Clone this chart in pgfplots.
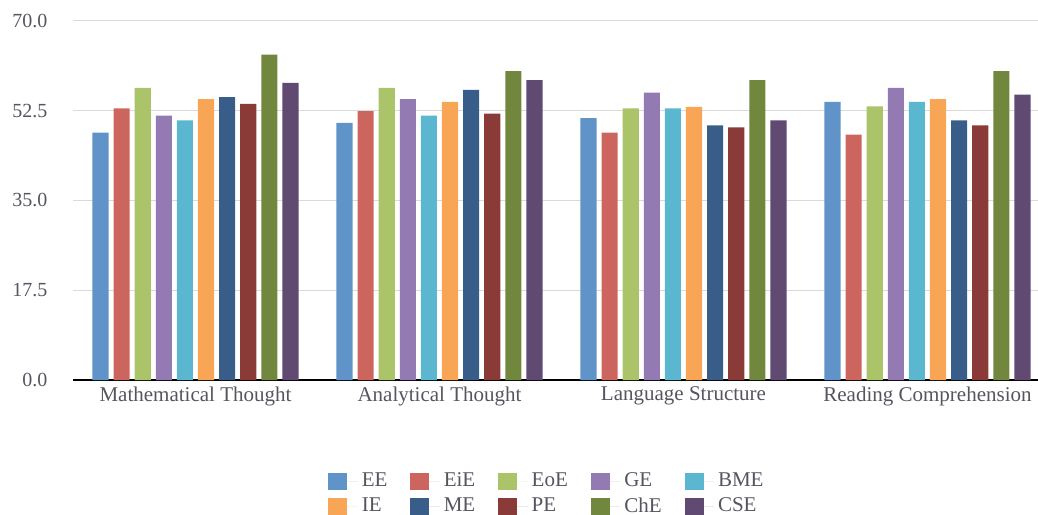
\documentclass[border=0pt]{standalone}
\usepackage{fontspec}
\setmainfont{Liberation Serif}
\usepackage{pgfplots}
\usepackage{pgfplotstable}
\pgfplotsset{compat=1.18}

\definecolor{cEE}{HTML}{6094C8}
\definecolor{cEiE}{HTML}{CD655F}
\definecolor{cEoE}{HTML}{ABC369}
\definecolor{cGE}{HTML}{947AB2}
\definecolor{cBME}{HTML}{5BB7D0}
\definecolor{cIE}{HTML}{F8A555}
\definecolor{cME}{HTML}{385D88}
\definecolor{cPE}{HTML}{8A3B38}
\definecolor{cChE}{HTML}{72873E}
\definecolor{cCSE}{HTML}{604A72}
\definecolor{txt}{HTML}{555560}
\definecolor{gridc}{HTML}{DADADA}

% scores by area (rows) and programme (columns)
\pgfplotstableread{
x EE EiE EoE GE BME IE ME PE ChE CSE
0 48.2 52.9 56.9 51.5 50.6 54.7 55.1 53.8 63.4 57.9
1 50.1 52.4 56.9 54.7 51.5 54.2 56.5 51.9 60.2 58.4
2 51.0 48.2 52.9 56.0 52.9 53.2 49.6 49.2 58.4 50.6
3 54.2 47.8 53.3 56.9 54.2 54.7 50.6 49.6 60.2 55.6
}\scores

\begin{document}
\begin{tikzpicture}
\useasboundingbox (-36.75pt,-67pt) rectangle (482.25pt,190pt);
\begin{axis}[
  at={(0,0)}, anchor=south west,
  scale only axis, width=482.25pt, height=179.65pt,
  ybar, bar width=0.066,
  xmin=-0.5, xmax=3.453, ymin=0, ymax=70,
  axis x line*=bottom, axis y line*=left,
  x axis line style={-, black, line width=1pt},
  y axis line style={draw=none},
  xtick={0,1,2,3},
  xticklabels={Mathematical Thought, Analytical Thought, Language Structure, Reading Comprehension},
  ytick={0,17.5,35,52.5,70},
  major tick length=0pt,
  ymajorgrids, grid style={gridc, line width=0.5pt},
  ticklabel style={font=\fontsize{10}{12}\selectfont, text=txt},
  xticklabel style={font=\fontsize{10.5}{12}\selectfont},
  yticklabel style={xshift=-9.5pt},
  yticklabel={\pgfmathprintnumber[fixed, fixed zerofill, precision=1]{\tick}},
  /pgf/number format/assume math mode=true,
  legend columns=5,
  legend cell align=left,
  legend style={at={(0.4919,-0.3173)}, anchor=center, draw=none,
    font=\fontsize{10.5}{11.5}\selectfont, text=txt,
    /tikz/every even column/.append style={column sep=9.5pt},
    row sep=0pt},
  legend image code/.code={\fill[#1] (0pt,-4.25pt) rectangle (9.5pt,4.25pt);
    \path (0pt,0pt) -- (14.7pt,0pt);},
]
\addplot[fill=cEE, draw=none, bar shift=-0.38925] table[x=x,y=EE]{\scores};
\addplot[fill=cEiE, draw=none, bar shift=-0.30275] table[x=x,y=EiE]{\scores};
\addplot[fill=cEoE, draw=none, bar shift=-0.21625] table[x=x,y=EoE]{\scores};
\addplot[fill=cGE, draw=none, bar shift=-0.12975] table[x=x,y=GE]{\scores};
\addplot[fill=cBME, draw=none, bar shift=-0.04325] table[x=x,y=BME]{\scores};
\addplot[fill=cIE, draw=none, bar shift=0.04325] table[x=x,y=IE]{\scores};
\addplot[fill=cME, draw=none, bar shift=0.12975] table[x=x,y=ME]{\scores};
\addplot[fill=cPE, draw=none, bar shift=0.21625] table[x=x,y=PE]{\scores};
\addplot[fill=cChE, draw=none, bar shift=0.30275] table[x=x,y=ChE]{\scores};
\addplot[fill=cCSE, draw=none, bar shift=0.38925] table[x=x,y=CSE]{\scores};
\legend{EE,EiE,EoE,GE,BME,IE,ME,PE,ChE,CSE}
\end{axis}
\end{tikzpicture}
\end{document}
